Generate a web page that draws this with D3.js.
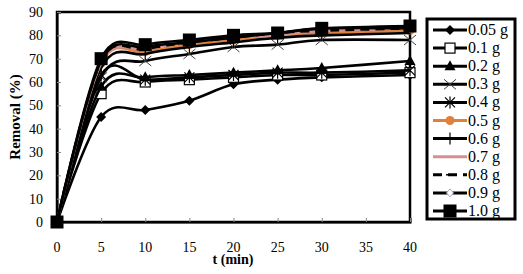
<!DOCTYPE html>
<html>
<head>
<meta charset="utf-8">
<script src="https://cdn.jsdelivr.net/npm/d3@7"></script>
<style>
  body { margin: 0; background: #fff; }
</style>
</head>
<body>
<svg id="canvas"></svg>
<script>
// time points (min)
const times = [0, 5, 10, 15, 20, 25, 30, 40];
const xTicks = [0, 5, 10, 15, 20, 25, 30, 35, 40];
const yTicks = [0, 10, 20, 30, 40, 50, 60, 70, 80, 90];

// removal (%) per adsorbent dose
const doses = ["0.05 g", "0.1 g", "0.2 g", "0.3 g", "0.4 g", "0.5 g", "0.6 g", "0.7 g", "0.8 g", "0.9 g", "1.0 g"];
const r005 = [0, 45, 48, 52, 59, 61, 62, 63];
const r01  = [0, 55, 60, 61, 62, 63, 63, 64];
const r02  = [0, 58, 62, 63, 64, 65, 66, 69];
const r03  = [0, 62, 69, 72, 75, 76, 78, 78];
const r04  = [0, 63, 61, 62, 63, 64, 64, 65];
const r05  = [0, 68, 73, 76, 78, 80, 81, 82];
const r06  = [0, 66, 72, 75, 77, 79, 80, 81];
const r07  = [0, 68, 74, 77, 79, 80, 82, 83];
const r08  = [0, 69, 74, 77, 79, 81, 82, 83];
const r09  = [0, 69, 75, 77, 79, 81, 83, 83];
const r10  = [0, 70, 76, 78, 80, 81, 83, 84];
const values = [r005, r01, r02, r03, r04, r05, r06, r07, r08, r09, r10];

// look of each series
const styles = [
  {stroke: "#000", marker: "diamond"},
  {stroke: "#000", marker: "squareOpen"},
  {stroke: "#000", marker: "triangle"},
  {stroke: "#000", marker: "cross"},
  {stroke: "#000", marker: "star"},
  {stroke: "#E0803A", marker: "circle"},
  {stroke: "#000", marker: "plus"},
  {stroke: "#D4918F", marker: "none"},
  {stroke: "#000", marker: "dash", dash: "9,6"},
  {stroke: "#000", marker: "diamondOpen"},
  {stroke: "#000", marker: "square"}
];

const FONT = "Liberation Serif";
const width = 523, height = 274;
const svg = d3.select("#canvas").attr("width", width).attr("height", height);

const x = d3.scaleLinear().domain([0, 40]).range([57, 410]);
const y = d3.scaleLinear().domain([0, 90]).range([222, 12]);

// plot border
svg.append("rect")
  .attr("x", 57).attr("y", 12)
  .attr("width", 353).attr("height", 210)
  .attr("fill", "none").attr("stroke", "#000").attr("stroke-width", 2.5);

// axes, ticks pointing inward
const xAxis = svg.append("g").attr("transform", "translate(0,222)")
  .call(d3.axisTop(x).tickValues(xTicks).tickSize(4).tickFormat(""));
const yAxis = svg.append("g").attr("transform", "translate(57,0)")
  .call(d3.axisRight(y).tickValues(yTicks).tickSize(4).tickFormat(""));
[xAxis, yAxis].forEach(a => {
  a.select(".domain").attr("stroke", "#000").attr("stroke-width", 2);
  a.selectAll(".tick line").attr("stroke", "#888");
});

svg.selectAll(".xlab").data(xTicks).join("text")
  .attr("font-family", FONT)
  .attr("x", d => x(d)).attr("y", 252)
  .attr("text-anchor", "middle").attr("font-size", 14).text(d => d);
svg.selectAll(".ylab").data(yTicks).join("text")
  .attr("font-family", FONT)
  .attr("x", 43).attr("y", d => y(d) + 5)
  .attr("text-anchor", "end").attr("font-size", 14).text(d => d);

svg.append("text").attr("x", 233).attr("y", 264)
  .attr("font-family", FONT)
  .attr("text-anchor", "middle").attr("font-size", 14).attr("font-weight", "bold")
  .text("t (min)");
svg.append("text").attr("transform", "translate(20,117) rotate(-90)")
  .attr("font-family", FONT)
  .attr("text-anchor", "middle").attr("font-size", 15).attr("font-weight", "bold")
  .text("Removal (%)");

// marker drawing
function drawMarker(g, type, cx, cy, color) {
  if (type === "diamond") {
    g.append("path").attr("d", `M${cx},${cy-5}L${cx+5},${cy}L${cx},${cy+5}L${cx-5},${cy}Z`).attr("fill", "#000");
  } else if (type === "squareOpen") {
    g.append("rect").attr("x", cx-5).attr("y", cy-5).attr("width", 10).attr("height", 10)
      .attr("fill", "#fff").attr("stroke", "#000").attr("stroke-width", 1.2);
  } else if (type === "triangle") {
    g.append("path").attr("d", `M${cx},${cy-6}L${cx+5.5},${cy+4}L${cx-5.5},${cy+4}Z`).attr("fill", "#000");
  } else if (type === "cross") {
    g.append("path").attr("d", `M${cx-6},${cy-5}L${cx+6},${cy+5}M${cx-6},${cy+5}L${cx+6},${cy-5}`)
      .attr("stroke", "#444").attr("stroke-width", 1);
  } else if (type === "star") {
    g.append("path").attr("d", `M${cx-5},${cy-5}L${cx+5},${cy+5}M${cx-5},${cy+5}L${cx+5},${cy-5}M${cx},${cy-6}L${cx},${cy+6}`)
      .attr("stroke", "#000").attr("stroke-width", 1.2);
  } else if (type === "circle") {
    g.append("circle").attr("cx", cx).attr("cy", cy).attr("r", 4.5).attr("fill", color);
  } else if (type === "plus") {
    g.append("path").attr("d", `M${cx},${cy-6}L${cx},${cy+6}`).attr("stroke", "#000").attr("stroke-width", 1.2);
  } else if (type === "dash") {
    g.append("path").attr("d", `M${cx-4},${cy}L${cx+4},${cy}`).attr("stroke", "#000").attr("stroke-width", 1.5);
  } else if (type === "diamondOpen") {
    g.append("path").attr("d", `M${cx},${cy-4}L${cx+3.5},${cy}L${cx},${cy+4}L${cx-3.5},${cy}Z`)
      .attr("fill", "#fff").attr("stroke", "#A8A8C8").attr("stroke-width", 1);
  } else if (type === "square") {
    g.append("rect").attr("x", cx-6.5).attr("y", cy-6.5).attr("width", 13).attr("height", 13).attr("fill", "#000");
  }
}

const line = d3.line()
  .x((d, i) => x(times[i]))
  .y(d => y(d))
  .curve(d3.curveCardinal.tension(0));

values.forEach((vals, k) => {
  const st = styles[k];
  const g = svg.append("g");
  g.append("path").attr("d", line(vals))
    .attr("fill", "none").attr("stroke", st.stroke).attr("stroke-width", 2.6)
    .attr("stroke-dasharray", st.dash || null);
  vals.forEach((v, i) => drawMarker(g, st.marker, x(times[i]), y(v), st.stroke));
});

// legend
const lg = svg.append("g");
svg.append("clipPath").attr("id", "lgclip").append("rect")
  .attr("x", 427).attr("y", 19).attr("width", 88).attr("height", 200);
const items = lg.append("g").attr("clip-path", "url(#lgclip)");
doses.forEach((d, i) => {
  const cy = 30 + i * 18.1;
  const st = styles[i];
  items.append("line").attr("x1", 433).attr("x2", 467).attr("y1", cy).attr("y2", cy)
    .attr("stroke", st.stroke).attr("stroke-width", 3)
    .attr("stroke-dasharray", st.dash || null);
  drawMarker(items, st.marker, 450, cy, st.stroke);
  items.append("text").attr("x", 468).attr("y", cy + 5)
    .attr("font-family", FONT)
    .attr("font-size", 16).text(d);
});
lg.append("rect").attr("x", 427).attr("y", 19).attr("width", 88).attr("height", 200)
  .attr("fill", "none").attr("stroke", "#000").attr("stroke-width", 3);
</script>
</body>
</html>
